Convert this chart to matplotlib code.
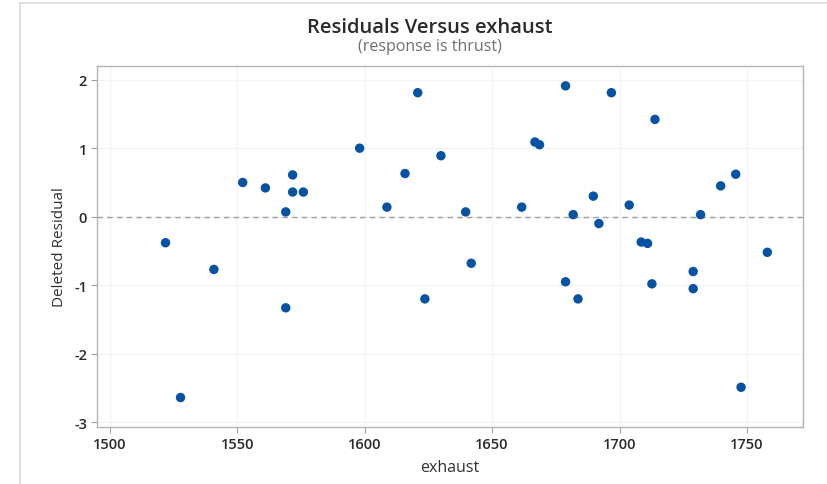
import matplotlib
matplotlib.use("Agg")
import matplotlib.pyplot as plt
from matplotlib.lines import Line2D

plt.rcParams['font.family'] = ['Open Sans', 'DejaVu Sans']
plt.rcParams['axes.unicode_minus'] = False

# Predictor values (exhaust) and deleted residuals
exhaust = [1620.8, 1598.0, 1629.9, 1615.8, 1552.1, 1561.0, 1571.7, 1571.7,
           1575.9, 1569.0, 1608.7, 1521.8, 1540.8, 1569.0, 1623.6, 1527.7,
           1678.8, 1696.8, 1713.9, 1666.8, 1668.6, 1745.6, 1739.7, 1689.7,
           1703.8, 1661.6, 1639.6, 1681.8, 1731.8, 1691.9, 1708.5, 1711.0,
           1758.0, 1641.8, 1728.9, 1678.8, 1712.7, 1728.9, 1683.7, 1747.7]
deleted_residual = [1.81, 1.00, 0.89, 0.63, 0.50, 0.42, 0.61, 0.36,
                    0.36, 0.07, 0.14, -0.38, -0.77, -1.33, -1.20, -2.64,
                    1.91, 1.81, 1.42, 1.09, 1.05, 0.62, 0.45, 0.30,
                    0.17, 0.14, 0.07, 0.03, 0.03, -0.10, -0.37, -0.39,
                    -0.52, -0.68, -0.80, -0.95, -0.98, -1.05, -1.20, -2.49]

x_ticks = [1500, 1550, 1600, 1650, 1700, 1750]
y_ticks = [-3, -2, -1, 0, 1, 2]

fig = plt.figure(figsize=(8.28, 4.85), dpi=100)
ax = fig.add_axes([0.1171, 0.1175, 0.9698 - 0.1171, 0.8619 - 0.1175])

# thin frame around the graph window
fig.add_artist(Line2D([20.5 / 828, 20.5 / 828], [0, 1 - 3.5 / 485],
                      transform=fig.transFigure, color='#dcdcdc', lw=1.2))
fig.add_artist(Line2D([20.5 / 828, 1], [1 - 3.5 / 485, 1 - 3.5 / 485],
                      transform=fig.transFigure, color='#dcdcdc', lw=1.2))

ax.scatter(exhaust, deleted_residual, s=46, color='#0652a3', zorder=3,
           edgecolors='none')
ax.axhline(0, color='#a0a0a0', lw=1.0, ls=(0, (4, 3)), zorder=2)

ax.set_xlim(1494.9, 1772.0)
ax.set_ylim(-3.07, 2.2)
ax.set_xticks(x_ticks)
ax.set_yticks(y_ticks)
ax.grid(True, color='#f3f3f3', lw=0.9, zorder=0)

for sp in ax.spines.values():
    sp.set_color('#b4b4b4')
    sp.set_linewidth(1.0)
ax.tick_params(axis='both', colors='#a0a0a0', length=4, width=0.8,
               labelcolor='#2a2a2a', labelsize=10.5, pad=3)
for lbl in ax.get_xticklabels() + ax.get_yticklabels():
    lbl.set_fontweight('semibold')

ax.set_xlabel('exhaust', fontsize=11.5, color='#303030', labelpad=6)
ax.set_ylabel('Deleted Residual', fontsize=11, color='#303030', labelpad=5)

title_x = 430 / 828
fig.text(title_x, 1 - 28 / 485, 'Residuals Versus exhaust', ha='center',
         va='center', fontsize=14.5, fontweight='semibold', color='#2a2a2a')
fig.text(title_x, 1 - 47 / 485, '(response is thrust)', ha='center',
         va='center', fontsize=11.5, color='#707070')

fig.savefig('out.png', dpi=100)
